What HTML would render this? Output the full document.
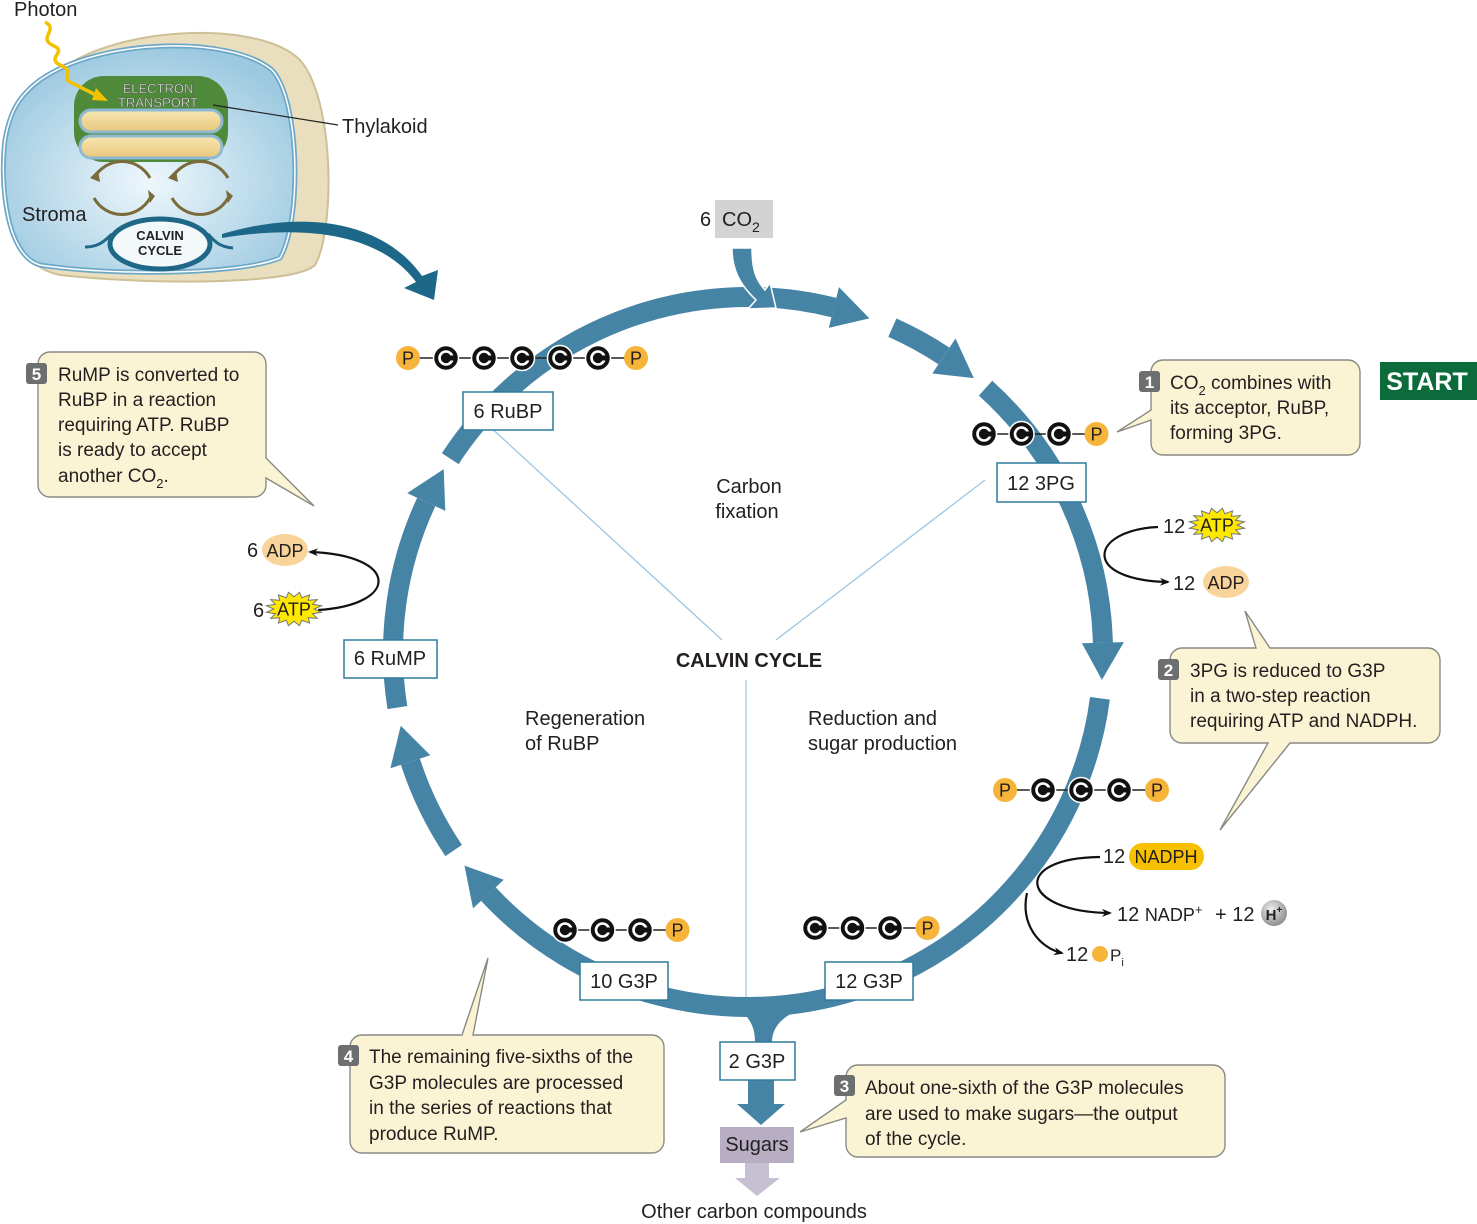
<!DOCTYPE html>
<html><head><meta charset="utf-8"><style>
html,body{margin:0;padding:0;background:#fff;}
svg{display:block;font-family:"Liberation Sans",Arial,sans-serif;}
.t{font-size:20px;fill:#231f20;}
.c{font-size:19px;fill:#231f20;}
</style></head><body>
<svg id="s" width="1477" height="1224" viewBox="0 0 1477 1224" xmlns="http://www.w3.org/2000/svg">
<defs>
<marker id="ah" markerWidth="10" markerHeight="10" refX="8" refY="5" orient="auto" markerUnits="userSpaceOnUse"><path d="M0,1 L10,5 L0,9 L3,5Z" fill="#111"/></marker>
<radialGradient id="str" cx="0.5" cy="0.6" r="0.6"><stop offset="0" stop-color="#eef7fc"/><stop offset="1" stop-color="#9cc9e0"/></radialGradient>
<linearGradient id="th" x1="0" y1="0" x2="0" y2="1"><stop offset="0" stop-color="#f7e7b4"/><stop offset="1" stop-color="#e8c77a"/></linearGradient>
<radialGradient id="hg" cx="0.4" cy="0.35" r="0.7"><stop offset="0" stop-color="#eee"/><stop offset="1" stop-color="#888"/></radialGradient>
</defs>

<!-- Chloroplast -->
<path d="M60,70 C120,25 260,20 300,60 C335,100 335,230 315,265 C295,285 150,285 60,275 C10,265 0,200 5,150 C10,110 30,90 60,70Z" fill="#e9dfbf" stroke="#cdbf96" stroke-width="2"/>
<path d="M40,80 C100,38 230,35 272,70 C300,100 302,220 280,258 C240,275 110,276 40,265 C5,255 0,180 5,140 C10,110 20,95 40,80Z" fill="url(#str)" stroke="#6ea8c8" stroke-width="5"/>
<path d="M40,80 C100,38 230,35 272,70 C300,100 302,220 280,258 C240,275 110,276 40,265 C5,255 0,180 5,140 C10,110 20,95 40,80Z" fill="none" stroke="#fff" stroke-width="1.5"/>
<rect x="74" y="76" width="154" height="86" rx="30" fill="#4e8a3a"/>
<rect x="80" y="110" width="142" height="22" rx="11" fill="url(#th)" stroke="#8fb9d2" stroke-width="3"/>
<rect x="80" y="136" width="142" height="22" rx="11" fill="url(#th)" stroke="#8fb9d2" stroke-width="3"/>
<text x="158" y="93" text-anchor="middle" font-size="13" fill="#fff" stroke="#555" stroke-width="0.5">ELECTRON</text>
<text x="158" y="107" text-anchor="middle" font-size="13" fill="#fff" stroke="#555" stroke-width="0.5">TRANSPORT</text>
<path d="M45,22 C60,30 36,38 54,46 C68,52 44,58 62,66 C76,72 58,78 74,84 L102,98" fill="none" stroke="#f2c200" stroke-width="3.5"/>
<path d="M96,88 L108,101 L92,100Z" fill="#f2c200"/>
<text x="14" y="16" class="t">Photon</text>
<line x1="213" y1="105" x2="338" y2="125" stroke="#222" stroke-width="1.2"/>
<text x="342" y="133" class="t">Thylakoid</text>
<text x="22" y="221" class="t">Stroma</text>
<g fill="none" stroke="#7b6a3a" stroke-width="3">
<path d="M150,178 A32,32 0 0 0 94,178"/><path d="M94,198 A32,32 0 0 0 150,198"/>
<path d="M228,178 A32,32 0 0 0 172,178"/><path d="M172,198 A32,32 0 0 0 228,198"/>
</g>
<g fill="#7b6a3a"><path d="M90,178 L98,170 L100,182Z"/><path d="M155,196 L148,190 L150,203Z"/><path d="M168,178 L176,170 L178,182Z"/><path d="M233,196 L226,190 L228,203Z"/></g>
<ellipse cx="160" cy="244" rx="50" ry="25" fill="#f3f8fb" stroke="#1e6787" stroke-width="5"/>
<path d="M85,247 C100,247 105,240 112,234 M208,234 C215,242 220,247 233,248" fill="none" stroke="#1e6787" stroke-width="3"/>
<text x="160" y="240" text-anchor="middle" font-size="13" font-weight="bold" fill="#222">CALVIN</text>
<text x="160" y="255" text-anchor="middle" font-size="13" font-weight="bold" fill="#222">CYCLE</text>
<path d="M222,234 C320,205 390,230 422,276 L438,270 L434,300 L404,288 L416,282 C385,240 320,222 222,238Z" fill="#1d6889"/>

<g stroke="#9cc6e2" stroke-width="1.3">
<line x1="488" y1="425" x2="722" y2="640"/>
<line x1="985" y1="480" x2="776" y2="640"/>
<line x1="746" y1="680" x2="746" y2="1002"/>
</g>
<g id="ring"></g>

<rect x="715" y="200" width="58" height="38" fill="#d3d3d3"/>
<text x="700" y="226" class="t">6</text><text x="722" y="226" class="t">CO<tspan font-size="14" dy="6">2</tspan></text>
<path d="M732,248 L752,248 C752,270 756,280 765,290 L770,283 L776,308 L748,309 L756,300 C740,285 732,270 732,248Z" fill="#4684a6" stroke="#fff" stroke-width="1.5"/>

<path d="M740,1010 C752,1020 755,1030 755,1042 L772,1042 C772,1028 782,1016 800,1010Z" fill="#4684a6"/>
<rect x="748" y="1080" width="26" height="26" fill="#4684a6"/>
<path d="M737,1104 L785,1104 L761,1125Z" fill="#4684a6"/>
<rect x="720" y="1127" width="74" height="36" fill="#b7aec4"/>
<text x="757" y="1151" text-anchor="middle" class="t">Sugars</text>
<rect x="745" y="1163" width="24" height="16" fill="#c7c0d2"/>
<path d="M735,1178 L780,1178 L757,1196Z" fill="#c7c0d2"/>
<text x="754" y="1218" text-anchor="middle" class="t">Other carbon compounds</text>

<g id="mol"></g>

<g fill="#fff" stroke="#2f7a9c" stroke-width="1.5">
<rect x="463" y="392" width="90" height="38"/>
<rect x="997" y="463" width="89" height="39"/>
<rect x="344" y="640" width="93" height="38"/>
<rect x="580" y="962" width="88" height="38"/>
<rect x="825" y="962" width="88" height="38"/>
<rect x="720" y="1042" width="75" height="38"/>
</g>
<text x="508" y="418" text-anchor="middle" class="t">6 RuBP</text>
<text x="1041" y="490" text-anchor="middle" class="t">12 3PG</text>
<text x="390" y="665" text-anchor="middle" class="t">6 RuMP</text>
<text x="624" y="988" text-anchor="middle" class="t">10 G3P</text>
<text x="869" y="988" text-anchor="middle" class="t">12 G3P</text>
<text x="757" y="1068" text-anchor="middle" class="t">2 G3P</text>

<text x="749" y="493" text-anchor="middle" class="t">Carbon</text>
<text x="747" y="518" text-anchor="middle" class="t">fixation</text>
<text x="749" y="667" text-anchor="middle" font-size="20" font-weight="bold" fill="#231f20">CALVIN CYCLE</text>
<text x="525" y="725" class="t">Regeneration</text>
<text x="525" y="750" class="t">of RuBP</text>
<text x="808" y="725" class="t">Reduction and</text>
<text x="808" y="750" class="t">sugar production</text>

<path d="M1158,527 C1090,530 1080,580 1168,582" fill="none" stroke="#111" stroke-width="2.2" marker-end="url(#ah)"/>
<text x="1163" y="533" class="t">12</text>
<g id="atp1"></g>
<text x="1173" y="590" class="t">12</text>
<ellipse cx="1226" cy="582" rx="23" ry="16" fill="#f9d49a"/>
<text x="1226" y="589" text-anchor="middle" font-size="18" fill="#231f20">ADP</text>
<path d="M318,610 C400,605 400,555 310,552" fill="none" stroke="#111" stroke-width="2.2" marker-end="url(#ah)"/>
<text x="247" y="557" class="t">6</text>
<ellipse cx="285" cy="550" rx="23" ry="16" fill="#f9d49a"/>
<text x="285" y="557" text-anchor="middle" font-size="18" fill="#231f20">ADP</text>
<text x="253" y="617" class="t">6</text>
<g id="atp2"></g>
<path d="M1100,857 C1010,858 1020,912 1110,913" fill="none" stroke="#111" stroke-width="2.2" marker-end="url(#ah)"/>
<path d="M1027,893 C1020,925 1040,948 1062,953" fill="none" stroke="#111" stroke-width="2.2" marker-end="url(#ah)"/>
<text x="1103" y="863" class="t">12</text>
<rect x="1129" y="843" width="75" height="27" rx="13.5" fill="#f7c000"/>
<text x="1166" y="863" text-anchor="middle" font-size="18" fill="#231f20">NADPH</text>
<text x="1117" y="921" class="t">12 <tspan font-size="18">NADP</tspan><tspan font-size="13" dy="-7">+</tspan></text>
<text x="1215" y="921" class="t">+ 12</text>
<circle cx="1274" cy="913" r="13" fill="url(#hg)"/>
<text x="1274" y="920" text-anchor="middle" font-size="15" font-weight="bold" fill="#222">H<tspan font-size="10" dy="-7">+</tspan></text>
<text x="1066" y="961" class="t">12</text>
<circle cx="1100" cy="954" r="8" fill="#f6b53a"/>
<text x="1110" y="961" font-size="17" fill="#231f20">P<tspan font-size="11" dy="5">i</tspan></text>

<g fill="#fbf4d4" stroke="#8a8a84" stroke-width="1.4">
<path d="M1163,360 H1348 a12,12 0 0 1 12,12 V443 a12,12 0 0 1 -12,12 H1163 a12,12 0 0 1 -12,-12 V420 L1117,432 L1151,410 V372 a12,12 0 0 1 12,-12Z"/>
<path d="M1182,648 H1256 L1245,611 L1270,648 H1428 a12,12 0 0 1 12,12 V731 a12,12 0 0 1 -12,12 H1290 L1220,830 L1268,743 H1182 a12,12 0 0 1 -12,-12 V660 a12,12 0 0 1 12,-12Z"/>
<path d="M858,1065 H1213 a12,12 0 0 1 12,12 V1145 a12,12 0 0 1 -12,12 H858 a12,12 0 0 1 -12,-12 V1118 L800,1132 L846,1100 V1077 a12,12 0 0 1 12,-12Z"/>
<path d="M362,1035 H462 L488,958 L473,1035 H652 a12,12 0 0 1 12,12 V1141 a12,12 0 0 1 -12,12 H362 a12,12 0 0 1 -12,-12 V1047 a12,12 0 0 1 12,-12Z"/>
<path d="M50,352 H254 a12,12 0 0 1 12,12 V458 L314,506 L266,478 V485 a12,12 0 0 1 -12,12 H50 a12,12 0 0 1 -12,-12 V364 a12,12 0 0 1 12,-12Z"/>
</g>
<g fill="#6d6e70">
<rect x="1139" y="371" width="21" height="21" rx="3"/>
<rect x="1158" y="659" width="21" height="21" rx="3"/>
<rect x="834" y="1075" width="21" height="21" rx="3"/>
<rect x="338" y="1045" width="21" height="21" rx="3"/>
<rect x="26" y="363" width="21" height="21" rx="3"/>
</g>
<g font-size="17" font-weight="bold" fill="#fff" text-anchor="middle">
<text x="1149.5" y="388">1</text><text x="1168.5" y="676">2</text><text x="844.5" y="1092">3</text><text x="348.5" y="1062">4</text><text x="36.5" y="380">5</text>
</g>
<g class="c">
<text x="1170" y="389" class="c">CO<tspan font-size="13" dy="6">2</tspan><tspan dy="-6"> combines with</tspan></text>
<text x="1170" y="414" class="c">its acceptor, RuBP,</text>
<text x="1170" y="439" class="c">forming 3PG.</text>
<text x="1190" y="677" class="c">3PG is reduced to G3P</text>
<text x="1190" y="702" class="c">in a two-step reaction</text>
<text x="1190" y="727" class="c">requiring ATP and NADPH.</text>
<text x="865" y="1094" class="c">About one-sixth of the G3P molecules</text>
<text x="865" y="1120" class="c">are used to make sugars—the output</text>
<text x="865" y="1145" class="c">of the cycle.</text>
<text x="369" y="1063" class="c">The remaining five-sixths of the</text>
<text x="369" y="1089" class="c">G3P molecules are processed</text>
<text x="369" y="1114" class="c">in the series of reactions that</text>
<text x="369" y="1140" class="c">produce RuMP.</text>
<text x="58" y="381" class="c">RuMP is converted to</text>
<text x="58" y="406" class="c">RuBP in a reaction</text>
<text x="58" y="431" class="c">requiring ATP.  RuBP</text>
<text x="58" y="456" class="c">is ready to accept</text>
<text x="58" y="482" class="c">another CO<tspan font-size="13" dy="6">2</tspan><tspan dy="-6">.</tspan></text>
</g>
<rect x="1380" y="362" width="97" height="38" fill="#0b6b3a"/>
<text x="1427" y="390" text-anchor="middle" font-size="25" font-weight="bold" fill="#fff">START</text>
</svg>
<script>
(function(){
var NS="http://www.w3.org/2000/svg";
function el(p,tag,a,txt){var e=document.createElementNS(NS,tag);for(var k in a)e.setAttribute(k,a[k]);if(txt)e.textContent=txt;p.appendChild(e);return e;}
var cx=748,cy=652,R=355,W=20,col="#4684a6";
var ring=document.getElementById("ring");
function P(r,a){a=a*Math.PI/180;return [cx+r*Math.cos(a),cy+r*Math.sin(a)];}
function seg(a1,a2,head){
  var hl=head?5.5:0;var e=a2-hl;
  var p1=P(R,a1),p2=P(R,e);var large=(e-a1)>180?1:0;
  el(ring,"path",{d:"M"+p1+" A"+R+","+R+" 0 "+large+" 1 "+p2,fill:"none",stroke:col,"stroke-width":W});
  if(head){var b1=P(R+21,e),b2=P(R-21,e),t=P(R,a2+0.5);
   el(ring,"path",{d:"M"+b1+" L"+t+" L"+b2+"Z",fill:col});}
}
seg(-147,-70.5,1);
seg(-66,-51,1);
seg(-48,4,1);
seg(7.5,142.5,1);
seg(146,167.5,1);
seg(171,210.5,1);
var mol=document.getElementById("mol");
function chain(list,x0,y,sp){
  for(var i=0;i<list.length-1;i++)el(mol,"line",{x1:x0+i*sp,y1:y,x2:x0+(i+1)*sp,y2:y,stroke:"#222","stroke-width":1.5});
  list.forEach(function(t,i){var x=x0+i*sp;
   if(t=="C"){el(mol,"circle",{cx:x,cy:y,r:12.5,fill:"#111",stroke:"#fff","stroke-width":1.5});
     el(mol,"circle",{cx:x,cy:y,r:6.5,fill:"none",stroke:"#fff","stroke-width":2.6});
     el(mol,"rect",{x:x+2,y:y-2.5,width:6,height:5,fill:"#111"});}
   else{el(mol,"circle",{cx:x,cy:y,r:12,fill:"#f6b53a"});
     el(mol,"text",{x:x,y:y+6.5,"text-anchor":"middle","font-size":18,fill:"#231f20"},"P");}
  });
}
chain(["P","C","C","C","C","C","P"],408,358,38);
chain(["C","C","C","P"],984,434,37.5);
chain(["P","C","C","C","P"],1005,790,38);
chain(["C","C","C","P"],815,928,37.5);
chain(["C","C","C","P"],565,930,37.5);
function atp(id,x,y){var g=document.getElementById(id);var pts=[];
  for(var i=0;i<32;i++){var a=i*Math.PI/16,r=(i%2?1:0.72);pts.push((x+Math.cos(a)*r*28).toFixed(1)+","+(y+Math.sin(a)*r*17).toFixed(1));}
  el(g,"polygon",{points:pts.join(" "),fill:"#ffe800",stroke:"#777","stroke-width":1});
  el(g,"text",{x:x,y:y+6.5,"text-anchor":"middle","font-size":18,fill:"#231f20"},"ATP");}
atp("atp1",1217,525);atp("atp2",294,609);
})();
</script>
</body></html>
